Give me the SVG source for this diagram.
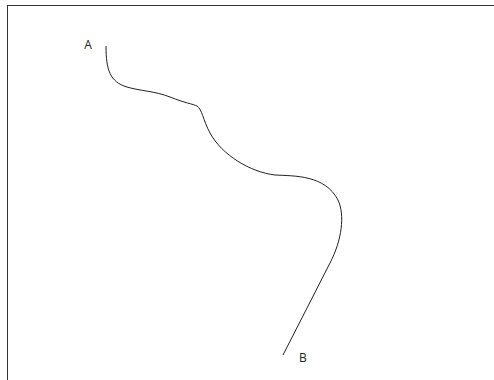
<svg xmlns="http://www.w3.org/2000/svg" width="494" height="380" viewBox="0 0 494 380">
<style>
.lbl{font-family:"Open Sans","Liberation Sans",sans-serif;font-size:12px;fill:#222}
.curve{fill:none;stroke:#222;stroke-width:1}
</style>
<rect x="0" y="0" width="494" height="380" fill="#fff"/>
<rect x="7.5" y="5.5" width="500" height="400" fill="none" stroke="#333" stroke-width="1"/>
<g id="connectors">
<path class="curve" d="M106,46 C106,70 110,82 127,87 C140,91 155,91 170,97 C185,103 193,104 197,106 C202,109 203,120 210,133 C222,155 250,172 275,175 C295,176 325,175 338,200 C345,215 342,240 330,263 L283,355"/>
</g>
<g id="A"><text class="lbl" x="88" y="48.5" text-anchor="middle">A</text></g>
<g id="B"><text class="lbl" x="303" y="362" text-anchor="middle">B</text></g>
</svg>
